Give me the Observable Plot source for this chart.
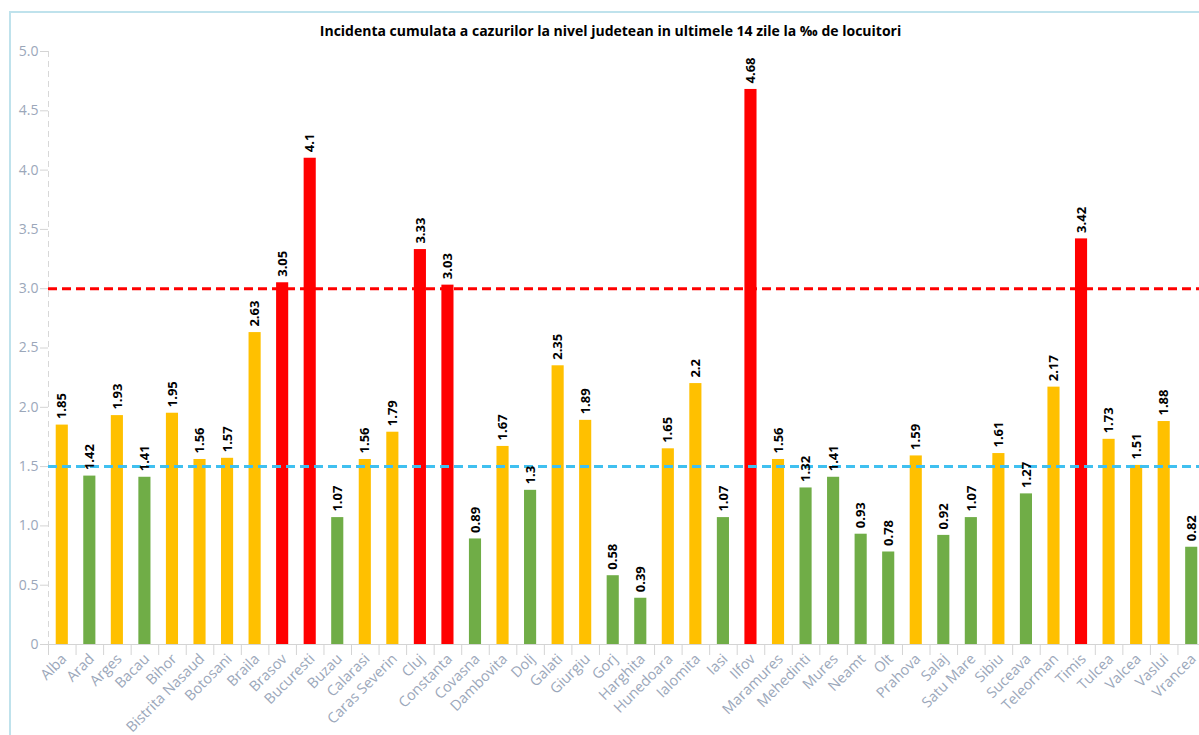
<!DOCTYPE html>
<html><head><meta charset="utf-8">
<script src="https://cdn.jsdelivr.net/npm/d3@7"></script>
<script src="https://cdn.jsdelivr.net/npm/@observablehq/plot@0.6"></script>
<style>
html,body{margin:0;padding:0;overflow:hidden;background:#fff;width:1199px;height:735px}
#wrap{position:relative;width:1199px;height:735px;overflow:hidden;font-family:"Open Sans",sans-serif}
#border{position:absolute;left:9px;top:11px;width:1400px;height:1000px;border:2px solid #bfe2ec;box-sizing:border-box}
#chart{position:absolute;left:0;top:0}
#title{position:absolute;left:0;top:22px;width:1221px;text-align:center;font-weight:700;font-size:14px;line-height:18px;color:#000}
</style></head>
<body><div id="wrap"><div id="border"></div><div id="chart"></div><div id="title">Incidenta cumulata a cazurilor la nivel judetean in ultimele 14 zile la ‰ de locuitori</div></div>
<script>
const counties = ["Alba","Arad","Arges","Bacau","Bihor","Bistrita Nasaud","Botosani","Braila","Brasov","Bucuresti","Buzau","Calarasi","Caras Severin","Cluj","Constanta","Covasna","Dambovita","Dolj","Galati","Giurgiu","Gorj","Harghita","Hunedoara","Ialomita","Iasi","Ilfov","Maramures","Mehedinti","Mures","Neamt","Olt","Prahova","Salaj","Satu Mare","Sibiu","Suceava","Teleorman","Timis","Tulcea","Valcea","Vaslui","Vrancea"];
const incidence = [1.85,1.42,1.93,1.41,1.95,1.56,1.57,2.63,3.05,4.1,1.07,1.56,1.79,3.33,3.03,0.89,1.67,1.3,2.35,1.89,0.58,0.39,1.65,2.2,1.07,4.68,1.56,1.32,1.41,0.93,0.78,1.59,0.92,1.07,1.61,1.27,2.17,3.42,1.73,1.51,1.88,0.82];
const thresholds = [1.5, 3];
const yTicks = [0,0.5,1,1.5,2,2.5,3,3.5,4,4.5,5];
const redLevel = 3;
const blueLevel = 1.5;

const data = counties.map((c, i) => ({county: c, value: incidence[i]}));
const xRange = [48, 1205];
const padInner = 0.56, padOuter = 0.28;
const step = (xRange[1] - xRange[0]) / (counties.length - padInner + 2 * padOuter);
const axisColor = "#9ba7ba";
const lineColor = "#d4d4d4";

const chart = Plot.plot({
  width: 1199,
  height: 735,
  marginTop: 51,
  marginBottom: 91,
  marginLeft: 48,
  marginRight: 0,
  style: {fontFamily: "'Open Sans', sans-serif", background: "transparent", overflow: "visible"},
  x: {type: "band", domain: counties, range: xRange, paddingInner: padInner, paddingOuter: padOuter, align: 0.5, round: false, label: null},
  y: {domain: [0, 5], label: null},
  color: {type: "threshold", domain: thresholds, range: ["#70AD47", "#FFC000", "#FF0000"]},
  marks: [
    Plot.ruleX([counties[0]], {dx: -step / 2, stroke: "#d8d8d8", strokeDasharray: "6,4"}),
    Plot.ruleY([0], {stroke: lineColor}),
    Plot.axisY({ticks: yTicks, tickFormat: d => d === 0 ? "0" : d.toFixed(1), tickSize: 8, tickPadding: 2, stroke: lineColor, fill: axisColor, fontSize: 14, label: null}),
    Plot.axisX({tickSize: 11, tickFormat: () => "", dx: -step / 2, stroke: lineColor, label: null}),
    Plot.axisX({tickSize: 0, tickPadding: 12, tickRotate: -45, fill: axisColor, fontSize: 14.5, dx: 2, label: null}),
    Plot.barY(data, {x: "county", y: "value", fill: "value"}),
    Plot.ruleY([redLevel], {stroke: "#FF0000", strokeWidth: 3, strokeDasharray: "9,5"}),
    Plot.ruleY([blueLevel], {stroke: "#40C0F0", strokeWidth: 3, strokeDasharray: "9,5"}),
    Plot.text(data, {x: "county", y: "value", text: d => String(d.value), rotate: -90, textAnchor: "start", dy: -6, fontWeight: "bold", fontSize: 13, fill: "#000"})
  ]
});
document.getElementById("chart").appendChild(chart);
</script>
</body></html>
